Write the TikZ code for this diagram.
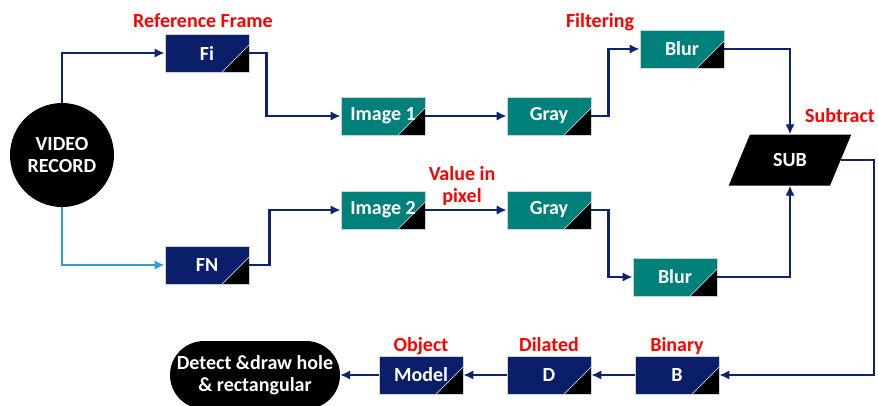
\documentclass[tikz,border=0pt]{standalone}
\usepackage{tikz}
\usetikzlibrary{arrows.meta,positioning,calc,shapes.geometric}
\usepackage{fontspec}
\setmainfont{Carlito}
\usepackage{xcolor}
\definecolor{Navy}{HTML}{0B1E6A}
\definecolor{Teal}{HTML}{00807B}
\definecolor{Wire}{HTML}{0D2570}
\definecolor{Sky}{HTML}{2AA0DC}
\definecolor{Edge}{HTML}{C9D3DC}
\definecolor{Alert}{HTML}{FF0000}
\newcommand{\labfont}{\fontsize{20}{22}\selectfont\bfseries}
\tikzset{
 block/.style={draw=Edge, line width=0.8pt, minimum width=84pt, minimum height=38pt, inner sep=0pt, text=white, font=\labfont,
  path picture={\fill[black] (path picture bounding box.south east) -- ++(-27pt,0pt) -- ++(27pt,27pt) -- cycle;
   \draw[Edge,line width=0.7pt] (path picture bounding box.south east) ++(-27pt,0pt) -- ++(27pt,27pt);}},
 navyblock/.style={block, fill=Navy},
 tealblock/.style={block, fill=Teal},
 term/.style={fill=black, text=white, align=center, inner sep=0pt, font=\fontsize{20}{22.5}\selectfont\bfseries},
 tag/.style={text=Alert, font=\labfont, align=center, inner sep=1pt},
 arrow/.style={-{Latex[length=10pt,width=9.5pt]}, line width=2.4pt, draw=Wire},
 skyarrow/.style={arrow, draw=Sky}
}
\begin{document}
\begin{tikzpicture}[x=1pt,y=-1pt]
\useasboundingbox (0,0) rectangle (878,405);
\node[term,circle,minimum size=104pt] (vid) at (62,155) {VIDEO\\RECORD};
\node[navyblock] (fi) at (207,53) {Fi};
\node[tealblock] (img1) at (383,116) {Image 1};
\node[tealblock] (gray1) at (549,116) {Gray};
\node[tealblock] (blur1) at (682,49) {Blur};
\node[navyblock] (fn) at (207,265) {FN};
\node[tealblock] (img2) at (383,210) {Image 2};
\node[tealblock] (gray2) at (549,210) {Gray};
\node[tealblock] (blur2) at (675,277) {Blur};
\node[term,trapezium,trapezium left angle=56,trapezium right angle=124,trapezium stretches=true,minimum width=123pt,minimum height=51pt] (sub) at (790,160) {SUB};
\node[navyblock] (bin) at (677,375) {B};
\node[navyblock] (dil) at (549,375) {D};
\node[navyblock] (model) at (421,375) {Model};
\node[term,rounded corners=34pt,minimum width=170pt,minimum height=68pt] (detect) at (255,375) {Detect \&draw hole\\\& rectangular};
% red captions
\node[tag,anchor=base] at (203,27) {Reference Frame};
\node[tag,anchor=base] at (600,27) {Filtering};
\node[tag] at (462,186) {Value in\\pixel};
\node[tag,anchor=base] at (840,122) {Subtract};
\node[tag,text depth=0pt,above=3pt of model] {Object};
\node[tag,text depth=0pt,above=3pt of dil] {Dilated};
\node[tag,text depth=0pt,above=3pt of bin] {Binary};
% connectors
\draw[arrow] (vid.north) |- (fi.west);\draw[skyarrow] (vid.south) |- (fn.west);
\draw[arrow] (fi.east) -- ++(17,0) |- (img1.west);\draw[arrow] (img1) -- (gray1);\draw[arrow] (gray1.east) -- ++(17,0) |- (blur1.west);
\draw[arrow] (blur1.east) -| (sub.north);
\draw[arrow] (fn.east) -- ++(20,0) |- (img2.west);\draw[arrow] (img2) -- (gray2);\draw[arrow] (gray2.east) -- ++(17,0) |- (blur2.west);
\draw[arrow] (blur2.east) -| (sub.south);
\draw[arrow] (sub.east) -- ++(33,0) |- (bin.east);
\draw[arrow] (bin) -- (dil);\draw[arrow] (dil) -- (model);\draw[arrow] (model) -- (detect);
\end{tikzpicture}
\end{document}
